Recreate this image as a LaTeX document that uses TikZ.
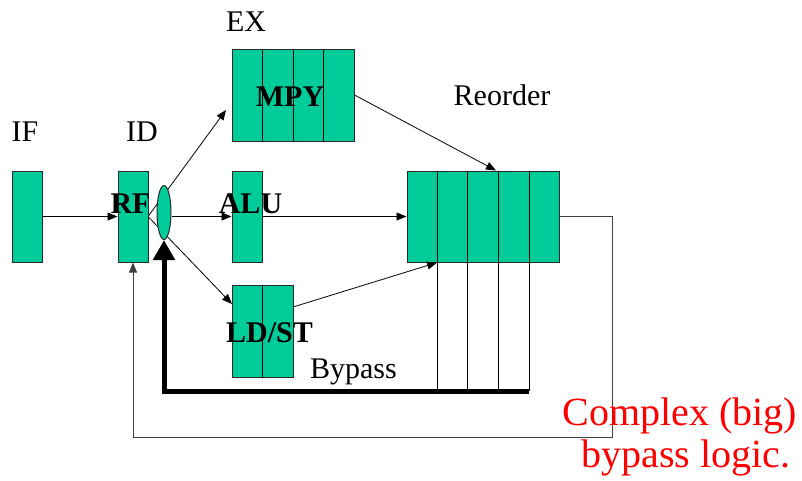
\documentclass[tikz,border=0pt]{standalone}
\usepackage{fontspec}
\setmainfont{Liberation Serif}
\usetikzlibrary{arrows.meta,shapes.geometric,calc}
\definecolor{boxfill}{RGB}{0,204,153}
\definecolor{edge}{RGB}{40,40,40}
\begin{document}
\begin{tikzpicture}[x=0.75pt,y=-0.75pt,
  stage/.style={draw=edge,line width=0.75pt,fill=boxfill,rectangle,inner sep=0pt},
  arr/.style={line width=0.6pt,-{Triangle[length=7.5pt,width=6pt]}},
  thin/.style={line width=0.6pt},
  lbl/.style={inner sep=0pt,anchor=base,font=\fontsize{22.5pt}{27pt}\selectfont},
  blbl/.style={inner sep=0pt,anchor=base,font=\fontsize{22.5pt}{27pt}\selectfont\bfseries},
  redlbl/.style={inner sep=0pt,anchor=base,text=red,font=\fontsize{30pt}{36pt}\selectfont}]
\useasboundingbox (0,0) rectangle (802,480);

% coordinates for arrow ends
\coordinate (mpyin) at (226,110);
\coordinate (ldstin) at (232,304);
\coordinate (ldstout) at (293,307);
\coordinate (fork) at (148,216.5);
\coordinate (corner) at (612,437);
\coordinate (bstart) at (529,391);
\coordinate (bcorner) at (164,391);

% thin connectors behind the boxes
\draw[arr] (fork) -- (mpyin);
\draw[arr] (fork) -- (ldstin);

% stages
\node[stage,minimum width=22.5pt,minimum height=68.25pt] (if) at (27,216.5) {};
\node[stage,minimum width=22.5pt,minimum height=68.25pt] (rf) at (133,216.5) {};
\node[stage,minimum width=22.5pt,minimum height=68.25pt] (alu) at (247,216.5) {};
\node[stage,minimum width=91.5pt,minimum height=69pt] (mpy) at (293,95) {};
\node[stage,minimum width=45.75pt,minimum height=69pt] (ldst) at (262.5,331) {};
\node[stage,minimum width=114pt,minimum height=68.25pt] (ro) at (483,216.5) {};
\node[draw=edge,line width=0.75pt,fill=boxfill,ellipse,inner sep=0pt,
      minimum width=10.5pt,minimum height=40.5pt] (el) at (164,212.5) {};

% dividers
\foreach \i in {1,2,3}
  \draw[thin,black] ($(mpy.north west)!\i/4!(mpy.north east)$) -- ($(mpy.south west)!\i/4!(mpy.south east)$);
\draw[thin,black] (ldst.north) -- (ldst.south);
\foreach \i in {1,2,3,4}
  \draw[thin,black] ($(ro.north west)!\i/5!(ro.north east)$) -- ++(0,220);

% connectors
\draw[arr] (if.east) -- (rf.west);
\draw[arr] (el.east |- alu.west) -- (alu.west);
\draw[arr] (alu.east) -- (ro.west);
\draw[arr] (mpy.east) -- ($(ro.north west)!0.585!(ro.north east)$);
\draw[arr] (ldstout) -- ($(ro.south west)!0.2!(ro.south east)$);
\draw[arr,draw=black!75] (ro.east) -| (corner) -| (rf.south);

% bypass bus
\draw[line width=3.75pt,line join=miter,-{Triangle[length=15pt,width=15.75pt]}]
  (bstart) -- (bcorner) -- (el.south);

% labels
\node[lbl] (tif) at (25,141) {IF};
\node[lbl] (tid) at (142,141) {ID};
\node[lbl] (tex) at (246,31) {EX};
\node[lbl] (tro) at (502,105) {Reorder};
\node[lbl] (tby) at (353.5,378) {Bypass};
\node[blbl] (trf) at (130.5,213) {RF};
\node[blbl] (talu) at (250.5,213) {ALU};
\node[blbl] (tmpy) at (290,106) {MPY};
\node[blbl] (tldst) at (269.5,342) {LD/ST};
\node[redlbl] (cx1) at (680,425) {Complex (big)};
\node[redlbl] (cx2) at (686,467) {bypass logic.};
\end{tikzpicture}
\end{document}
